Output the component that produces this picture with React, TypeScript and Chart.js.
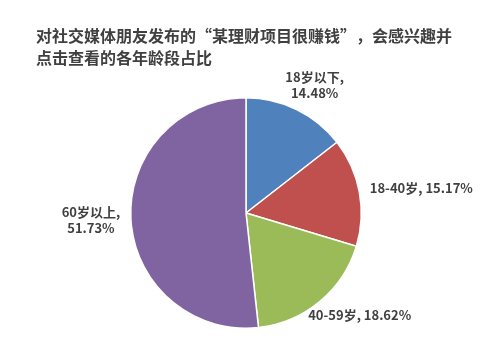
import React, { useEffect, useRef } from "react";
import { Chart, registerables } from "chart.js";

Chart.register(...registerables);

const titleLines = ["对社交媒体朋友发布的“某理财项目很赚钱”，会感兴趣并", "点击查看的各年龄段占比"];
const categories = ["18岁以下", "18-40岁", "40-59岁", "60岁以上"];
const values = [14.48, 15.17, 18.62, 51.73];
const colors = ["#4F81BD", "#C0504D", "#9BBB59", "#8064A2"];
// label block: lines split, offset from outer arc point (layout)
const labelLines = [
  ["18岁以下,", "14.48%"],
  ["18-40岁, 15.17%"],
  ["40-59岁, 18.62%"],
  ["60岁以上,", "51.73%"],
];
const labelOffsets = [
  [18, -24],
  [62, -4],
  [40, 13],
  [-40, 1],
];

const labelPlugin = {
  id: "customLabels",
  afterDraw(chart: any) {
    const ctx = chart.ctx;
    ctx.save();
    ctx.fillStyle = "#404040";
    ctx.textBaseline = "middle";
    ctx.textAlign = "left";
    ctx.font = "bold 16px 'Noto Sans CJK SC', sans-serif";
    titleLines.forEach((t, i) => ctx.fillText(t, 36, 36 + i * 22));

    const meta = chart.getDatasetMeta(0);
    ctx.font = "bold 13px 'Noto Sans CJK SC', sans-serif";
    ctx.textAlign = "center";
    meta.data.forEach((arc: any, i: number) => {
      const { x, y, startAngle, endAngle, outerRadius } = arc.getProps(
        ["x", "y", "startAngle", "endAngle", "outerRadius"],
        true
      );
      const mid = (startAngle + endAngle) / 2;
      const px = x + Math.cos(mid) * outerRadius + labelOffsets[i][0];
      const py = y + Math.sin(mid) * outerRadius + labelOffsets[i][1];
      const lines = labelLines[i];
      const lh = 16;
      lines.forEach((l, j) => {
        ctx.fillText(l, px, py + (j - (lines.length - 1) / 2) * lh);
      });
    });
    ctx.restore();
  },
};

export default function App() {
  const ref = useRef<HTMLCanvasElement>(null);
  useEffect(() => {
    document.body.style.margin = "0";
    const chart = new Chart(ref.current!, {
      type: "pie",
      data: {
        labels: categories,
        datasets: [
          {
            data: values,
            backgroundColor: colors,
            borderColor: "#ffffff",
            borderWidth: 1.5,
          },
        ],
      },
      options: {
        animation: false,
        responsive: false,
        layout: { padding: { left: 130, top: 97, right: 135, bottom: 17 } },
        plugins: {
          legend: { display: false },
          tooltip: { enabled: false },
          title: { display: false },
        },
      },
      plugins: [labelPlugin],
    });
    return () => chart.destroy();
  }, []);
  return (
    <div style={{ width: 497, height: 346, background: "#fff" }}>
      <canvas ref={ref} width={497} height={346} style={{ display: "block" }} />
    </div>
  );
}
